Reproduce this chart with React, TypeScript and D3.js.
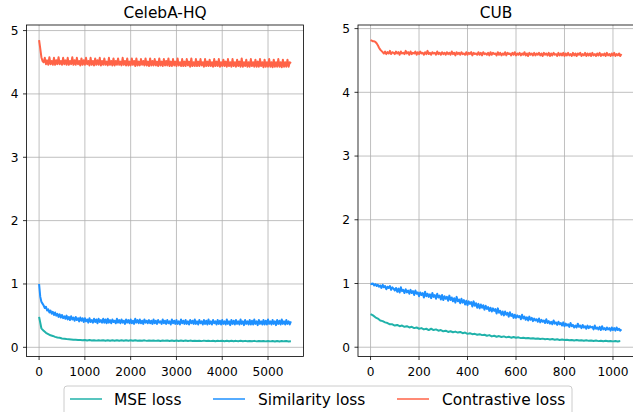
import * as d3 from 'd3'

// Training curves for two datasets; each series is sampled every `step` iterations
const CELEBA_MSE_STEP = 50
const CELEBA_MSE = [
  0.48, 0.30, 0.26, 0.23, 0.21, 0.19, 0.18, 0.165, 0.155, 0.15,
  0.14, 0.135, 0.13, 0.128, 0.125, 0.12, 0.118, 0.116, 0.114, 0.112,
  0.115, 0.108, 0.114, 0.107, 0.113, 0.106, 0.113, 0.106, 0.112, 0.105,
  0.112, 0.105, 0.111, 0.104, 0.112, 0.105, 0.110, 0.104, 0.111, 0.104,
  0.110, 0.103, 0.110, 0.104, 0.109, 0.103, 0.110, 0.102, 0.109, 0.103,
  0.108, 0.102, 0.109, 0.101, 0.108, 0.102, 0.107, 0.101, 0.108, 0.100,
  0.107, 0.100, 0.106, 0.101, 0.107, 0.099, 0.106, 0.100, 0.105, 0.099,
  0.105, 0.098, 0.106, 0.099, 0.104, 0.098, 0.105, 0.097, 0.104, 0.098,
  0.103, 0.097, 0.104, 0.096, 0.103, 0.097, 0.102, 0.096, 0.103, 0.095,
  0.102, 0.096, 0.101, 0.095, 0.102, 0.094, 0.101, 0.095, 0.100, 0.094,
  0.100, 0.094, 0.099, 0.093, 0.100, 0.093, 0.099, 0.094, 0.098, 0.093, 0.096,
]

const CELEBA_SIM_STEP = 25
const CELEBA_SIM = [
  1.00, 0.80, 0.72, 0.69, 0.66, 0.62, 0.64, 0.58, 0.60, 0.55, 0.58, 0.53, 0.56, 0.51, 0.55, 0.50, 0.53, 0.48, 0.52, 0.47,
  0.51, 0.46, 0.49, 0.45, 0.50, 0.44, 0.48, 0.43, 0.49, 0.44, 0.47, 0.42, 0.48, 0.43, 0.46, 0.41, 0.47, 0.42, 0.46, 0.40,
  0.46, 0.41, 0.44, 0.39, 0.46, 0.40, 0.43, 0.39, 0.45, 0.40, 0.44, 0.38, 0.45, 0.40, 0.43, 0.39, 0.45, 0.39, 0.44, 0.38,
  0.45, 0.39, 0.43, 0.38, 0.44, 0.40, 0.42, 0.38, 0.45, 0.39, 0.43, 0.38, 0.44, 0.39, 0.42, 0.37, 0.44, 0.39, 0.43, 0.38,
  0.44, 0.38, 0.42, 0.37, 0.45, 0.39, 0.43, 0.38, 0.44, 0.38, 0.42, 0.37, 0.44, 0.39, 0.42, 0.38, 0.43, 0.38, 0.42, 0.37,
  0.44, 0.38, 0.42, 0.37, 0.43, 0.39, 0.41, 0.37, 0.44, 0.38, 0.42, 0.37, 0.43, 0.38, 0.41, 0.36, 0.44, 0.38, 0.42, 0.37,
  0.43, 0.37, 0.41, 0.36, 0.44, 0.38, 0.42, 0.37, 0.43, 0.37, 0.41, 0.36, 0.43, 0.38, 0.42, 0.37, 0.44, 0.37, 0.41, 0.36,
  0.43, 0.38, 0.41, 0.36, 0.43, 0.37, 0.42, 0.36, 0.44, 0.37, 0.41, 0.36, 0.43, 0.38, 0.41, 0.36, 0.43, 0.37, 0.42, 0.36,
  0.43, 0.37, 0.41, 0.36, 0.44, 0.37, 0.41, 0.35, 0.43, 0.37, 0.42, 0.36, 0.43, 0.37, 0.41, 0.36, 0.44, 0.37, 0.41, 0.35,
  0.43, 0.37, 0.41, 0.36, 0.43, 0.36, 0.42, 0.36, 0.44, 0.37, 0.41, 0.35, 0.43, 0.37, 0.41, 0.36, 0.43, 0.36, 0.42, 0.36,
  0.44, 0.37, 0.41, 0.36, 0.43, 0.37, 0.41, 0.35, 0.43, 0.37, 0.42, 0.36, 0.44, 0.37, 0.41, 0.36, 0.43, 0.37, 0.41, 0.36, 0.41,
]

const CELEBA_CON_STEP = 25
const CELEBA_CON = [
  4.85, 4.72, 4.58, 4.52, 4.50,
  4.57, 4.47, 4.53, 4.46, 4.58, 4.47, 4.52, 4.46, 4.57, 4.46, 4.53, 4.47, 4.58, 4.47, 4.52, 4.46, 4.57, 4.47, 4.53, 4.46,
  4.57, 4.46, 4.52, 4.47, 4.58, 4.46, 4.53, 4.46, 4.57, 4.47, 4.52, 4.45, 4.56, 4.46, 4.53, 4.46, 4.57, 4.47, 4.52, 4.45,
  4.57, 4.46, 4.52, 4.45, 4.56, 4.46, 4.53, 4.46, 4.57, 4.45, 4.52, 4.46, 4.56, 4.46, 4.51, 4.45, 4.57, 4.46, 4.52, 4.45,
  4.56, 4.45, 4.52, 4.46, 4.56, 4.46, 4.51, 4.45, 4.57, 4.46, 4.52, 4.45, 4.56, 4.45, 4.51, 4.45, 4.56, 4.46, 4.52, 4.44,
  4.56, 4.45, 4.51, 4.45, 4.55, 4.46, 4.52, 4.45, 4.56, 4.45, 4.51, 4.44, 4.56, 4.45, 4.52, 4.45, 4.55, 4.45, 4.51, 4.44,
  4.56, 4.45, 4.51, 4.44, 4.55, 4.45, 4.52, 4.45, 4.56, 4.44, 4.51, 4.44, 4.55, 4.45, 4.51, 4.44, 4.56, 4.45, 4.50, 4.44,
  4.55, 4.44, 4.51, 4.44, 4.55, 4.45, 4.51, 4.43, 4.56, 4.44, 4.50, 4.44, 4.55, 4.44, 4.51, 4.44, 4.55, 4.45, 4.50, 4.43,
  4.55, 4.44, 4.51, 4.44, 4.54, 4.44, 4.50, 4.43, 4.55, 4.44, 4.51, 4.44, 4.55, 4.43, 4.50, 4.44, 4.54, 4.44, 4.51, 4.43,
  4.55, 4.44, 4.50, 4.43, 4.55, 4.44, 4.50, 4.43, 4.54, 4.44, 4.51, 4.43, 4.56, 4.43, 4.50, 4.44, 4.54, 4.43, 4.50, 4.43,
  4.55, 4.44, 4.50, 4.43, 4.54, 4.43, 4.51, 4.43, 4.55, 4.44, 4.50, 4.42, 4.54, 4.43, 4.50, 4.43, 4.55, 4.43, 4.50, 4.42,
  4.54, 4.43, 4.50, 4.43, 4.55, 4.43, 4.50, 4.42, 4.54, 4.43, 4.50, 4.43, 4.54, 4.43, 4.50, 4.48,
]

const CUB_MSE_STEP = 10
const CUB_MSE = [
  0.52, 0.50, 0.47, 0.45, 0.42, 0.41, 0.39, 0.38, 0.36, 0.36,
  0.34, 0.35, 0.33, 0.34, 0.32, 0.33, 0.31, 0.32, 0.30, 0.31,
  0.29, 0.30, 0.28, 0.29, 0.27, 0.29, 0.27, 0.28, 0.26, 0.27,
  0.25, 0.26, 0.24, 0.25, 0.235, 0.245, 0.23, 0.24, 0.22, 0.23,
  0.21, 0.22, 0.205, 0.21, 0.195, 0.205, 0.19, 0.195, 0.18, 0.19,
  0.17, 0.18, 0.165, 0.175, 0.16, 0.17, 0.155, 0.165, 0.15, 0.16,
  0.148, 0.155, 0.143, 0.15, 0.14, 0.146, 0.136, 0.142, 0.132, 0.138,
  0.128, 0.135, 0.125, 0.131, 0.121, 0.128, 0.118, 0.124, 0.115, 0.121,
  0.112, 0.118, 0.109, 0.115, 0.106, 0.112, 0.104, 0.11, 0.102, 0.108,
  0.10, 0.106, 0.098, 0.104, 0.096, 0.102, 0.095, 0.101, 0.094, 0.099,
  0.092, 0.098, 0.091, 0.096,
]

const CUB_SIM_STEP = 5
const CUB_SIM = [
  1.00, 0.99, 1.00, 0.97, 0.99, 0.96, 0.98, 0.95, 0.97, 0.93, 0.98, 0.94, 0.96, 0.91, 0.95, 0.93, 0.96, 0.90, 0.94, 0.92,
  0.89, 0.93, 0.87, 0.92, 0.86, 0.94, 0.88, 0.90, 0.85, 0.91, 0.86, 0.89, 0.84, 0.90, 0.85, 0.88, 0.82, 0.89, 0.84, 0.86,
  0.80, 0.86, 0.82, 0.85, 0.78, 0.87, 0.80, 0.84, 0.79, 0.83, 0.77, 0.85, 0.79, 0.82, 0.76, 0.84, 0.78, 0.81, 0.75, 0.82,
  0.74, 0.80, 0.76, 0.79, 0.73, 0.81, 0.74, 0.78, 0.72, 0.77, 0.70, 0.79, 0.72, 0.75, 0.69, 0.76, 0.70, 0.74, 0.67, 0.73,
  0.66, 0.72, 0.68, 0.71, 0.64, 0.72, 0.65, 0.69, 0.62, 0.68, 0.61, 0.67, 0.62, 0.66, 0.59, 0.65, 0.60, 0.63, 0.57, 0.62,
  0.56, 0.61, 0.57, 0.60, 0.53, 0.61, 0.54, 0.57, 0.51, 0.56, 0.50, 0.56, 0.51, 0.54, 0.48, 0.55, 0.49, 0.52, 0.46, 0.51,
  0.46, 0.50, 0.47, 0.49, 0.44, 0.51, 0.45, 0.48, 0.43, 0.47, 0.42, 0.48, 0.43, 0.46, 0.41, 0.45, 0.42, 0.44, 0.40, 0.45,
  0.39, 0.43, 0.40, 0.42, 0.38, 0.44, 0.38, 0.41, 0.37, 0.40, 0.36, 0.42, 0.37, 0.39, 0.35, 0.40, 0.36, 0.38, 0.34, 0.39,
  0.33, 0.37, 0.34, 0.36, 0.32, 0.38, 0.33, 0.35, 0.31, 0.34, 0.31, 0.37, 0.32, 0.34, 0.30, 0.35, 0.31, 0.33, 0.29, 0.34,
  0.30, 0.33, 0.31, 0.32, 0.28, 0.34, 0.29, 0.31, 0.28, 0.32, 0.27, 0.33, 0.28, 0.30, 0.27, 0.31, 0.28, 0.30, 0.26, 0.31,
  0.27, 0.30, 0.26, 0.31, 0.27, 0.29, 0.26, 0.28,
]

const CUB_CON_STEP = 5
const CUB_CON = [
  4.82, 4.81, 4.80, 4.80, 4.79, 4.77, 4.74, 4.70, 4.67, 4.65, 4.63, 4.61, 4.64, 4.60, 4.63, 4.61, 4.65, 4.60, 4.63, 4.62,
  4.60, 4.64, 4.61, 4.63, 4.59, 4.64, 4.61, 4.62, 4.60, 4.65, 4.61, 4.63, 4.59, 4.64, 4.60, 4.62, 4.61, 4.64, 4.59, 4.63,
  4.60, 4.64, 4.61, 4.62, 4.59, 4.63, 4.60, 4.65, 4.60, 4.62, 4.59, 4.63, 4.61, 4.62, 4.59, 4.64, 4.60, 4.62, 4.59, 4.63,
  4.60, 4.62, 4.59, 4.63, 4.60, 4.62, 4.59, 4.64, 4.60, 4.62, 4.58, 4.63, 4.60, 4.62, 4.59, 4.63, 4.60, 4.61, 4.59, 4.63,
  4.59, 4.62, 4.60, 4.63, 4.58, 4.62, 4.60, 4.61, 4.59, 4.63, 4.59, 4.62, 4.58, 4.63, 4.60, 4.61, 4.59, 4.62, 4.58, 4.63,
  4.59, 4.62, 4.60, 4.61, 4.58, 4.63, 4.59, 4.62, 4.58, 4.61, 4.59, 4.63, 4.58, 4.62, 4.60, 4.61, 4.58, 4.62, 4.59, 4.63,
  4.58, 4.61, 4.59, 4.62, 4.58, 4.61, 4.59, 4.63, 4.58, 4.61, 4.57, 4.62, 4.59, 4.61, 4.58, 4.62, 4.58, 4.61, 4.59, 4.62,
  4.58, 4.61, 4.57, 4.62, 4.59, 4.61, 4.58, 4.62, 4.57, 4.61, 4.58, 4.62, 4.59, 4.60, 4.57, 4.62, 4.58, 4.61, 4.58, 4.62,
  4.57, 4.61, 4.58, 4.62, 4.58, 4.60, 4.57, 4.62, 4.58, 4.61, 4.57, 4.61, 4.59, 4.62, 4.57, 4.60, 4.58, 4.62, 4.57, 4.61,
  4.58, 4.61, 4.57, 4.62, 4.58, 4.60, 4.57, 4.61, 4.58, 4.62, 4.57, 4.60, 4.58, 4.61, 4.57, 4.62, 4.58, 4.60, 4.57, 4.61,
  4.58, 4.62, 4.57, 4.60, 4.58, 4.61, 4.57, 4.60,
]

const SERIES_NAMES = ['MSE loss', 'Similarity loss', 'Contrastive loss']
const COLORS = ['#20b2aa', '#1e90ff', '#ff6347']

const Y_TICKS = [0, 1, 2, 3, 4, 5]
const CELEBA_X_TICKS = [0, 1000, 2000, 3000, 4000, 5000]
const CUB_X_TICKS = [0, 200, 400, 600, 800, 1000]

const W = 633
const H = 412
const FONT = 'DejaVu Sans, sans-serif'

type Series = { values: number[]; step: number }

function Panel({ title, series, xTicks, left, right, top, bottom }: {
  title: string; series: Series[]; xTicks: number[]
  left: number; right: number; top: number; bottom: number
}) {
  // matplotlib-style 5% margins around the data
  const lastX = d3.max(series, s => (s.values.length - 1) * s.step) as number
  const xPad = lastX * 0.05
  const x = d3.scaleLinear().domain([-xPad, lastX + xPad]).range([left, right])

  const [lo, hi] = d3.extent(series.flatMap(s => s.values)) as [number, number]
  const yPad = (hi - lo) * 0.05
  const y = d3.scaleLinear().domain([lo - yPad, hi + yPad]).range([bottom, top])

  return (
    <g>
      {xTicks.map(t => (
        <line key={'gx' + t} x1={x(t)} x2={x(t)} y1={top} y2={bottom} stroke="#b0b0b0" strokeWidth={0.8} />
      ))}
      {Y_TICKS.map(t => (
        <line key={'gy' + t} x1={left} x2={right} y1={y(t)} y2={y(t)} stroke="#b0b0b0" strokeWidth={0.8} />
      ))}

      {series.map((s, i) => {
        const line = d3.line<number>().x((_, j) => x(j * s.step)).y(d => y(d))
        return <path key={i} d={line(s.values) ?? ''} fill="none" stroke={COLORS[i]} strokeWidth={2} strokeLinejoin="round" />
      })}

      <rect x={left} y={top} width={right - left} height={bottom - top} fill="none" stroke="#000" strokeWidth={0.8} />

      {xTicks.map(t => (
        <g key={'tx' + t}>
          <line x1={x(t)} x2={x(t)} y1={bottom} y2={bottom + 3.5} stroke="#000" strokeWidth={0.8} />
          <text x={x(t)} y={bottom + 19.5} textAnchor="middle" fontSize={12.2} fontFamily={FONT} fill="#000">{t}</text>
        </g>
      ))}
      {Y_TICKS.map(t => (
        <g key={'ty' + t}>
          <line x1={left - 3.5} x2={left} y1={y(t)} y2={y(t)} stroke="#000" strokeWidth={0.8} />
          <text x={left - 8} y={y(t)} dy="0.36em" textAnchor="end" fontSize={12.2} fontFamily={FONT} fill="#000">{t}</text>
        </g>
      ))}

      <text x={(left + right) / 2} y={18} textAnchor="middle" fontSize={15.4} fontFamily={FONT} fill="#000">{title}</text>
    </g>
  )
}

export default function App() {
  const legendItems = [
    { x: 70, tx: 114 },
    { x: 213, tx: 258 },
    { x: 397, tx: 442 },
  ]
  return (
    <svg width={W} height={H} style={{ position: 'absolute', left: 0, top: 0, display: 'block', background: '#fff' }}>
      <Panel
        title="CelebA-HQ"
        series={[
          { values: CELEBA_MSE, step: CELEBA_MSE_STEP },
          { values: CELEBA_SIM, step: CELEBA_SIM_STEP },
          { values: CELEBA_CON, step: CELEBA_CON_STEP },
        ]}
        xTicks={CELEBA_X_TICKS}
        left={26.5}
        right={303.5}
        top={25}
        bottom={356.5}
      />
      <Panel
        title="CUB"
        series={[
          { values: CUB_MSE, step: CUB_MSE_STEP },
          { values: CUB_SIM, step: CUB_SIM_STEP },
          { values: CUB_CON, step: CUB_CON_STEP },
        ]}
        xTicks={CUB_X_TICKS}
        left={358}
        right={634}
        top={25}
        bottom={356.5}
      />

      {/* legend */}
      <rect x={64} y={386} width={508} height={40} rx={3} fill="#fff" fillOpacity={0.8} stroke="#cccccc" strokeWidth={1} />
      {SERIES_NAMES.map((name, i) => (
        <g key={name}>
          <line x1={legendItems[i].x} x2={legendItems[i].x + 32} y1={399} y2={399} stroke={COLORS[i]} strokeWidth={1.5} />
          <text x={legendItems[i].tx} y={404.5} fontSize={15.4} fontFamily={FONT} fill="#000">{name}</text>
        </g>
      ))}
    </svg>
  )
}
